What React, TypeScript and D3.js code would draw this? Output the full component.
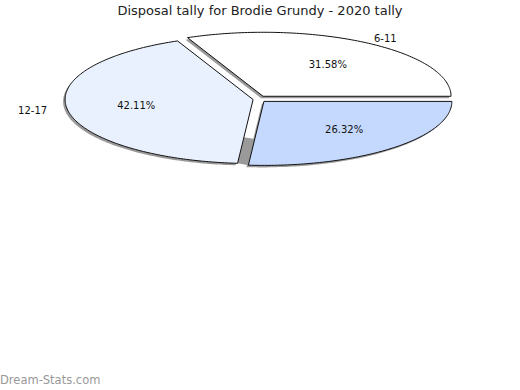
import React from "react";
import * as d3 from "d3";

const title = "Disposal tally for Brodie Grundy - 2020 tally";
const categories = ["6-11", "12-17", ""];
const values = [6, 8, 5];
const sliceColors = ["#ffffff", "#eaf1fe", "#c5d9fe"];
const watermark = "Dream-Stats.com";

const W = 520;
const H = 390;
const cx = 259.5;
const cy = 99;
const rx = 188;
const ry = 64;
const explode = 6.5;
const explodeY = 0.5;
const shadowDx = -2;
const shadowDy = 2;

export default function App() {
  const total = d3.sum(values);
  const arcs = d3
    .pie<number>()
    .sort(null)
    .startAngle(0)
    .endAngle(2 * Math.PI)(values);

  const line = d3
    .line<[number, number]>()
    .x((d) => d[0])
    .y((d) => d[1])
    .curve(d3.curveLinearClosed);

  const slices = arcs.map((a, i) => {
    const mid = (a.startAngle + a.endAngle) / 2;
    const ox = cx + explode * Math.cos(mid);
    const oy = cy - explode * Math.sin(mid) * explodeY;
    const steps = Math.max(8, Math.ceil(((a.endAngle - a.startAngle) * 180) / Math.PI));
    const pts: [number, number][] = [[ox, oy]];
    for (let s = 0; s <= steps; s++) {
      const t = a.startAngle + ((a.endAngle - a.startAngle) * s) / steps;
      pts.push([ox + rx * Math.cos(t), oy - ry * Math.sin(t)]);
    }
    return { a, i, mid, ox, oy, pts };
  });

  const s1 = slices[1];
  const s2 = slices[2];
  const edgePt = (s: typeof s1, ang: number, t: number): [number, number] => [
    s.ox + rx * t * Math.cos(ang),
    s.oy - ry * t * Math.sin(ang),
  ];
  const gapAng = s1.a.endAngle;
  const gapPts: [number, number][] = [
    edgePt(s1, gapAng, 0.59),
    edgePt(s1, gapAng, 1.0),
    edgePt(s2, gapAng, 1.0),
    edgePt(s2, gapAng, 0.59),
  ];

  const font = "'DejaVu Sans', sans-serif";

  return (
    <svg
      width={W}
      height={H}
      style={{ position: "absolute", left: 0, top: 0, background: "#fff" }}
      fontFamily={font}
    >
      <rect width={W} height={H} fill="#fff" />
      <text x={W / 2} y={15} textAnchor="middle" fontSize={13} fill="#222">
        {title}
      </text>
      {slices.map((s) => (
        <path
          key={"sh" + s.i}
          d={line(s.pts.map((p) => [p[0] + shadowDx, p[1] + shadowDy] as [number, number])) || ""}
          fill="#9a9a9a"
        />
      ))}
      <path d={line(gapPts) || ""} fill="#9a9a9a" />
      {slices.map((s) => (
        <path
          key={"sl" + s.i}
          d={line(s.pts) || ""}
          fill={sliceColors[s.i]}
          stroke="#111"
          strokeWidth={1}
          strokeLinejoin="round"
        />
      ))}
      {slices.map((s) => (
        <text
          key={"pc" + s.i}
          x={s.ox + rx * 0.63 * Math.cos(s.mid)}
          y={s.oy - ry * 0.6 * Math.sin(s.mid)}
          textAnchor="middle"
          dominantBaseline="central"
          fontSize={10}
          fill="#111"
        >
          {((values[s.i] / total) * 100).toFixed(2) + "%"}
        </text>
      ))}
      {slices.map((s) =>
        categories[s.i] ? (
          <text
            key={"lb" + s.i}
            x={cx + (rx + 42) * Math.cos(s.mid)}
            y={cy - (ry + 8) * Math.sin(s.mid)}
            textAnchor="middle"
            dominantBaseline="central"
            fontSize={10}
            fill="#111"
          >
            {categories[s.i]}
          </text>
        ) : null
      )}
      <text x={0} y={384} fontSize={11.5} fill="#999">
        {watermark}
      </text>
    </svg>
  );
}
